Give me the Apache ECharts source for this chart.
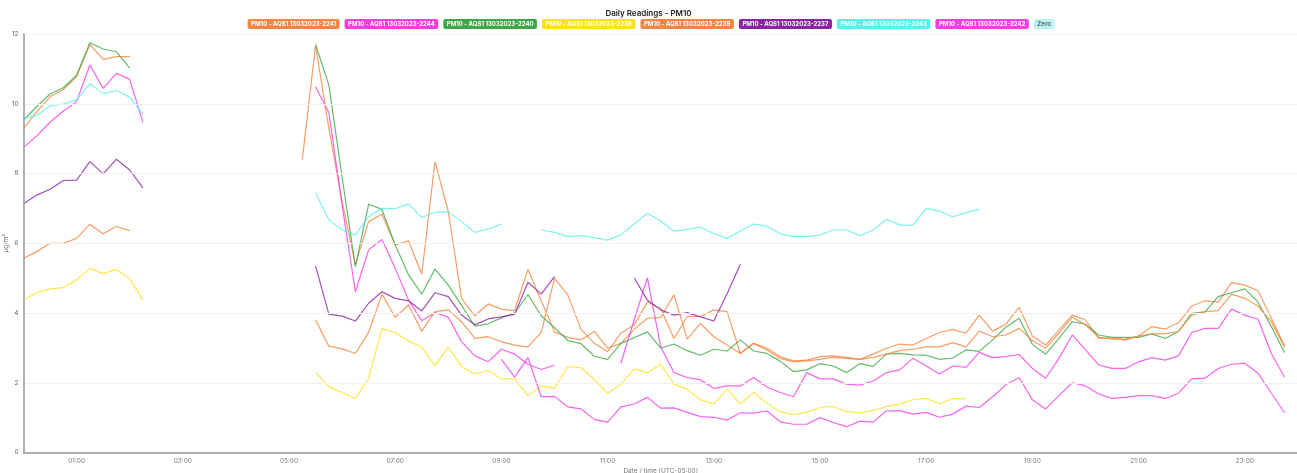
<!DOCTYPE html>
<html><head><meta charset="utf-8">
<script src="https://cdn.jsdelivr.net/npm/echarts@6/dist/echarts.min.js"></script>
<style>html,body{margin:0;padding:0;background:#fff}#c{width:1297px;height:473px}</style>
</head><body><div id="c"></div>
<script>
const times = ["00:00","00:15","00:30","00:45","01:00","01:15","01:30","01:45","02:00","02:15","02:30","02:45",
"03:00","03:15","03:30","03:45","04:00","04:15","04:30","04:45","05:00","05:15","05:30","05:45",
"06:00","06:15","06:30","06:45","07:00","07:15","07:30","07:45","08:00","08:15","08:30","08:45",
"09:00","09:15","09:30","09:45","10:00","10:15","10:30","10:45","11:00","11:15","11:30","11:45",
"12:00","12:15","12:30","12:45","13:00","13:15","13:30","13:45","14:00","14:15","14:30","14:45",
"15:00","15:15","15:30","15:45","16:00","16:15","16:30","16:45","17:00","17:15","17:30","17:45",
"18:00","18:15","18:30","18:45","19:00","19:15","19:30","19:45","20:00","20:15","20:30","20:45",
"21:00","21:15","21:30","21:45","22:00","22:15","22:30","22:45","23:00","23:15","23:30","23:45"];
const N = null;
const seriesNames = ["PM10 - AQS1 13032023-2241","PM10 - AQS1 13032023-2244","PM10 - AQS1 13032023-2240","PM10 - AQS1 13032023-2238","PM10 - AQS1 13032023-2239","PM10 - AQS1 13032023-2237","PM10 - AQS1 13032023-2243","PM10 - AQS1 13032023-2242","Zero"];
const s2241 = [9.29,9.77,10.20,10.41,10.78,11.70,11.27,11.35,11.35,N, N,N,N,N,N,N,N,N,N,N,N,
8.39,11.67,9.3,7.2,5.38,6.62,6.83,5.95,6.07,5.11,8.34,6.91,4.42,3.92,4.26,4.11,4.07,5.25,4.35,3.46,
3.30,3.23,3.47,2.99,3.13,3.53,3.85,3.87,4.52,3.25,3.70,3.32,3.08,2.84,3.13,
2.99,2.75,2.63,2.65,2.75,2.77,2.73,2.67,2.82,2.99,3.11,3.08,3.27,3.44,3.53,3.42,3.94,3.48,3.68,4.16,
3.34,3.08,3.51,3.94,3.80,3.27,3.29,3.22,3.34,
3.61,3.54,3.72,4.20,4.35,4.31,4.87,4.80,4.64,3.85,3.05];
const s2244 = [8.75,9.08,9.47,9.79,10.06,11.11,10.44,10.87,10.70,9.46, N,N,N,N,N,N,N,N,N,N,N,N,
10.49,9.75,7.1,4.61,5.81,6.11,5.28,4.37,3.78,4.01,3.88,3.18,2.77,2.60,2.96,2.82,2.53,2.38,2.51,
N,N,N,N,
2.56,3.8,5.01,3.03,2.29,2.15,2.08,1.84,1.91,1.91,2.15,1.88,1.72,
1.60,2.29,2.11,2.11,1.96,1.93,2.05,2.29,2.37,2.70,2.48,2.25,2.48,2.44,2.87,2.72,2.75,
2.81,2.41,2.13,2.70,3.37,2.94,2.51,2.41,2.41,2.60,2.72,2.65,2.77,3.44,3.56,3.56,4.11,3.94,3.82,2.84,2.16];
const s2240 = [9.53,9.92,10.28,10.46,10.82,11.75,11.57,11.49,11.02,N, N,N,N,N,N,N,N,N,N,N,N,N,
11.70,10.54,7.9,5.33,7.12,6.97,5.95,5.10,4.54,5.26,4.80,4.22,3.62,3.69,3.86,4.00,4.53,3.92,3.58,
3.21,3.12,2.76,2.67,3.13,3.29,3.46,2.99,3.11,2.92,2.79,2.96,2.91,3.23,2.91,2.84,2.62,
2.32,2.37,2.55,2.48,2.29,2.55,2.47,2.82,2.84,2.80,2.79,2.67,2.71,2.94,2.90,3.23,3.59,3.85,
3.10,2.82,3.27,3.75,3.68,3.37,3.30,3.30,3.30,3.40,3.27,3.47,3.99,4.03,4.47,4.58,4.69,4.31,3.61,2.86];
const s2238 = [4.37,4.58,4.69,4.73,4.95,5.28,5.13,5.25,4.99,4.37, N,N,N,N,N,N,N,N,N,N,N,N,
2.30,1.89,1.72,1.55,2.13,3.56,3.44,3.20,3.02,2.49,3.02,2.46,2.25,2.35,2.11,2.11,1.63,1.91,1.84,
2.46,2.43,2.10,1.70,1.96,2.39,2.29,2.53,1.96,1.81,1.51,1.39,1.82,1.39,1.73,
1.41,1.17,1.09,1.15,1.29,1.32,1.17,1.14,1.20,1.32,1.38,1.52,1.55,1.39,1.55,1.54,
N,N,N,N,N,N,N,N,N,N,N,N,N,N,N,N,N,N,N,N,N,N,N,N];
const s2239 = [5.57,5.76,6.00,6.00,6.14,6.54,6.27,6.48,6.36,N, N,N,N,N,N,N,N,N,N,N,N,N,
3.80,3.05,2.97,2.84,3.45,4.54,3.88,4.23,3.48,4.04,4.09,3.75,3.27,3.32,3.18,3.08,3.03,3.44,4.99,
4.52,3.53,3.13,2.89,3.42,3.66,4.32,4.13,3.27,3.90,3.90,4.09,4.04,2.84,3.13,
2.94,2.70,2.60,2.63,2.67,2.73,2.70,2.67,2.73,2.82,2.92,2.96,3.03,3.03,3.15,3.03,3.48,3.32,3.37,3.56,
3.21,2.99,3.42,3.88,3.66,3.30,3.25,3.25,3.34,
3.40,3.40,3.47,3.94,4.04,4.07,4.54,4.42,4.20,3.75,3.01];
const s2237 = [7.13,7.38,7.55,7.80,7.81,8.34,7.99,8.41,8.10,7.59, N,N,N,N,N,N,N,N,N,N,N,N,
5.35,3.97,3.91,3.77,4.28,4.61,4.42,4.35,4.06,4.58,4.47,3.94,3.66,3.83,3.89,3.96,4.88,4.54,5.04,
N,N,N,N,N,
5.01,4.37,4.09,3.94,4.01,3.89,3.77,4.55,5.40,
N,N,N,N,N,N,N,N,N,N,N,N,N,N,N,N,N,N,N,N,N,N,N,N,N,N,N,N,N,N,N,N,N,N,N,N,N,N,N,N,N];
const s2243 = [9.58,9.66,9.94,9.99,10.11,10.57,10.29,10.38,10.19,9.70, N,N,N,N,N,N,N,N,N,N,N,N,
7.45,6.67,6.38,6.24,6.76,7.00,6.99,7.13,6.74,6.89,6.90,6.62,6.31,6.41,6.55,
N,N,
6.38,6.31,6.19,6.22,6.16,6.09,6.24,6.55,6.86,6.64,6.35,6.40,6.46,6.28,6.14,6.35,6.55,6.49,6.27,
6.19,6.19,6.24,6.38,6.38,6.22,6.38,6.69,6.52,6.52,7.00,6.92,6.76,6.88,6.98,
N,N,N,N,N,N,N,N,N,N,N,N,N,N,N,N,N,N,N,N,N,N,N];
const s2242 = [N,N,N,N,N,N,N,N,N,N,N,N,N,N,N,N,N,N,N,N,N,N,N,N,N,N,N,N,N,N,N,N,N,N,N,N,
2.67,2.16,2.72,1.60,1.61,
1.31,1.25,0.95,0.87,1.31,1.39,1.58,1.27,1.28,1.15,1.03,1.01,0.93,1.14,1.13,1.19,0.88,
0.81,0.81,1.00,0.86,0.74,0.90,0.87,1.19,1.20,1.10,1.15,1.01,1.10,1.33,1.29,1.60,1.94,2.15,1.51,
1.25,1.63,2.00,1.91,1.68,1.55,1.58,1.63,1.63,1.55,1.70,2.11,2.13,2.41,2.53,2.56,2.27,1.70,1.14];
const sZero = [0,0,0,0,0,0,0,0,0,0,0,0,0,0,0,0,0,0,0,0,0,0,0,0,0,0,0,0,0,0,0,0,0,0,0,0,0,0,0,0,0,0,0,0,0,0,0,0,
0,0,0,0,0,0,0,0,0,0,0,0,0,0,0,0,0,0,0,0,0,0,0,0,0,0,0,0,0,0,0,0,0,0,0,0,0,0,0,0,0,0,0,0,0,0,0,0];
const yTicks = [0,2,4,6,8,10,12];
const xTickLabels = ["01:00","03:00","05:00","07:00","09:00","11:00","13:00","15:00","17:00","19:00","21:00","23:00"];

const seriesValues = [s2241,s2244,s2240,s2238,s2239,s2237,s2243,s2242,sZero];
const colors = ['#F5853F','#F23DE6','#3DA946','#FFE01F','#F5853F','#8C22A8','#5DEFEE','#F03FEA','#B8F4F4'];
const font = 'Inter, "Noto Sans", sans-serif';
const toMin = t => parseInt(t.slice(0,2))*60 + parseInt(t.slice(3,5));
const mins = times.map(toMin);

const chart = echarts.init(document.getElementById('c'), null, {renderer:'canvas'});
chart.setOption({
  animation:false,
  backgroundColor:'#fff',
  title:{text:'Daily Readings - PM10', left:'center', top:5, textStyle:{fontSize:8, fontWeight:600, color:'#222', fontFamily:font}},
  legend:{
    top:14, left:'center', itemWidth:0, itemHeight:0, itemGap:0, icon:'rect',
    selectedMode:false,
    textStyle:{fontSize:6, fontWeight:'bold', fontFamily:font, padding:[2,3.5,2,3.5], borderRadius:2},
    data: seriesNames.map((n,k)=>({name:n, textStyle:{backgroundColor:colors[k], color: k===8?'#666':'#fff'}}))
  },
  grid:{left:23.5, top:34, width:1274.4, height:418.5, containLabel:false, outerBoundsMode:'none'},
  xAxis:[{
    type:'value', min:0, max:1440, interval:60, z:5,
    name:'Date / time (UTC-05:00)', nameLocation:'middle', nameGap:15, nameMoveOverlap:false,
    nameTextStyle:{fontSize:6.5, color:'#777', fontFamily:font},
    axisLine:{show:true, lineStyle:{color:'#999', width:1.5}},
    axisTick:{show:false},
    splitLine:{show:false},
    axisLabel:{fontSize:6.5, color:'#777', margin:5, fontFamily:font,
      formatter:v=>{const h=v/60; const s=(h<10?'0':'')+h+':00'; return xTickLabels.indexOf(s)>=0?s:'';}}
  },{
    type:'value', min:0, max:1440, position:'top',
    axisLine:{show:true, lineStyle:{color:'#aaa', width:1.2}},
    axisTick:{show:false}, axisLabel:{show:false}, splitLine:{show:false}
  }],
  yAxis:{
    type:'value', min:yTicks[0], max:yTicks[yTicks.length-1], interval:2, z:5,
    name:'µg/m³', nameLocation:'middle', nameGap:14, nameMoveOverlap:false,
    nameTextStyle:{fontSize:6.5, color:'#777', fontFamily:font},
    axisLine:{show:true, lineStyle:{color:'#999', width:1.5}},
    axisTick:{show:false},
    axisLabel:{fontSize:6.5, color:'#666', margin:5, fontFamily:font},
    splitLine:{lineStyle:{color:'#f1f1f1', width:1}}
  },
  series: seriesNames.map((n,k)=>({
    name:n, type:'line', xAxisIndex:0, symbol:'none', showSymbol:false, connectNulls:false,
    color:colors[k],
    lineStyle:{width:1.2, opacity: k===8?1:0.8, color:colors[k]},
    emphasis:{disabled:true},
    z: k===8?1:2,
    data: mins.map((m,i)=>[m, seriesValues[k][i]])
  }))
});
</script></body></html>
